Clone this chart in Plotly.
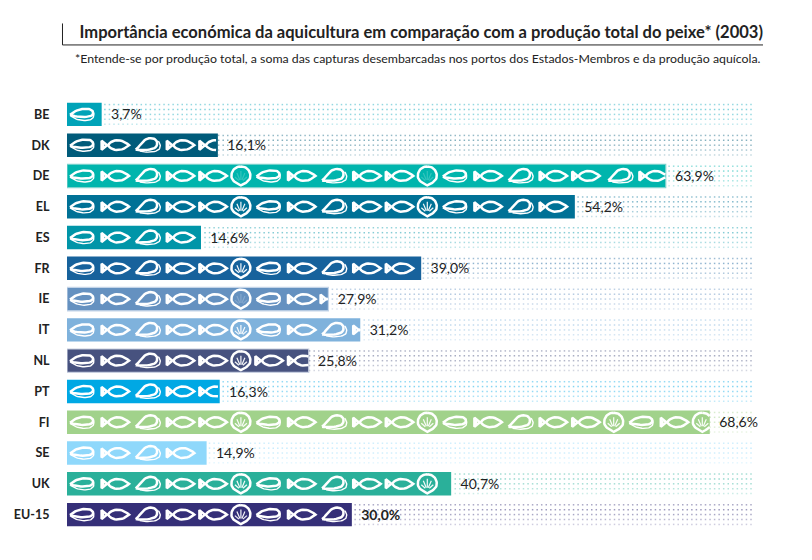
import numpy as np
import plotly.graph_objects as go

# ---------- data ----------
countries = ["BE", "DK", "DE", "EL", "ES", "FR", "IE", "IT", "NL", "PT", "FI", "SE", "UK", "EU-15"]
# printed percentages
printed_values = [3.7, 16.1, 63.9, 54.2, 14.6, 39.0, 27.9, 31.2, 25.8, 16.3, 68.6, 14.9, 40.7, 30.0]
# drawn bar lengths (they differ slightly from the printed labels)
bar_lengths = [3.7, 16.1, 63.9, 54.2, 14.3, 37.8, 27.9, 31.3, 25.8, 16.3, 68.6, 14.9, 41.0, 30.4]
bar_colors = ["#00a3b8", "#005b7a", "#00b5ad", "#007196", "#0095a8", "#17629c", "#6591c0",
              "#7fb2dc", "#47527f", "#00a8e4", "#a1d28b", "#8fd8fb", "#2ab09a", "#352f78"]
edge_colors = [None, None, "#7fd3cd", None, None, None, "#c3d4e8", None, "#c8cfe0", None, None, None, None, None]
# icon sequences: m = mussel, n = second mussel, f = fish, p = plant ring
icon_rows = {
    "BE": "m", "DK": "mfnff", "DE": "mfnffpmfnffpmfnffnf", "EL": "mfnffpmfnffpmfnf", "ES": "mfnf",
    "FR": "mfnffpmfnff", "IE": "mfnffpmff", "IT": "mfnffpmfnf", "NL": "mfnffpff", "PT": "mfnff",
    "FI": "mfnffpmfnffpmfnffpmfp", "SE": "mfnf", "UK": "mfnffpmfnffp", "EU-15": "mfnffpmfn",
}
faint_plants = {"DE", "IE"}

# ---------- layout constants (the page adds an 8 px body margin) ----------
PAGE = 8
W, H = 812 - 2 * PAGE, 560 - 2 * PAGE
X0 = 67 - PAGE
PX_PER_PCT = 9.37
ROW_PITCH = 30.81
FIRST_ROW = 114.0 - PAGE
TOP = FIRST_ROW - ROW_PITCH / 2
BOTTOM = FIRST_ROW + ROW_PITCH * 13.5
rows = np.arange(len(countries))
STEP = 32.6  # normal spacing of icons
PLANT_STEP = 28.0


def bez(p0, p1, p2, p3, n=14):
    t = np.linspace(0, 1, n)[:, None]
    p0, p1, p2, p3 = map(np.array, (p0, p1, p2, p3))
    return (1 - t) ** 3 * p0 + 3 * (1 - t) ** 2 * t * p1 + 3 * (1 - t) * t ** 2 * p2 + t ** 3 * p3


def chain(*segments):
    return np.vstack(segments)


# thick outlines of each icon
ICONS = {
    "f": [chain(bez((-8, 1), (-3, -7), (7, -6.5), (14, 0)),
                bez((14, 0), (7, 6.5), (-3, 7), (-8, -1))),
          np.array([(-8, 0), (-13.5, -4.5), (-13.5, 4.5), (-8, 0)], dtype=float),
          np.array([(-12, -2), (-12, 2)], dtype=float)],
    "m": [chain(bez((-12.5, 0.5), (-7, -4.5), (-1, -6), (5.5, -5.5)),
                bez((5.5, -5.5), (10, -5), (12, -2), (9.5, 1)),
                bez((9.5, 1), (5, 3.5), (-6, 3), (-12.5, 0.5)))],
    "n": [chain(bez((-12, 4.5), (-8, 2), (-5, -7), (3, -7)),
                bez((3, -7), (8.5, -7), (11, -3), (8.5, 1.5)),
                bez((8.5, 1.5), (6, 5), (-7, 5.5), (-12, 4.5)))],
    "p": [chain(bez((0, -9.5), (6, -9.5), (9.5, -5), (9.5, 0)),
                bez((9.5, 0), (9.5, 5), (4, 7.5), (0, 9.5)),
                bez((0, 9.5), (-4, 7.5), (-9.5, 5), (-9.5, 0)),
                bez((-9.5, 0), (-9.5, -5), (-6, -9.5), (0, -9.5)))],
}
# thin second shell lines of the mussels
SHELLS = {
    "m": [chain(bez((-12, 1.5), (-7, 5), (-2, 6.5), (4.5, 6)),
                bez((4.5, 6), (9.5, 5.5), (12.5, 3), (11, -2)))],
    "n": [chain(bez((-8, 6), (-2, 7.5), (8, 7.5), (11.5, 4)),
                bez((11.5, 4), (13.5, 1), (12.5, -2), (10.5, -4)))],
}
PLANT_INNER = [np.array([(0, 4), (0, -5)], dtype=float),
               np.array([(-1, 4), (-4, -3)], dtype=float),
               np.array([(1, 4), (4, -3)], dtype=float),
               np.array([(-2, 4.5), (-6, 1)], dtype=float),
               np.array([(2, 4.5), (6, 1)], dtype=float)]


def to_data(path, cx, row):
    return (cx + path[:, 0]) / PX_PER_PCT, row + path[:, 1] / ROW_PITCH


def clipped(paths, limit):
    xs, ys = [], []
    for x, y in paths:
        x = np.where(x <= limit, x, np.nan)
        xs += list(x) + [None]
        ys += list(y) + [None]
    return xs, ys


def icon_line(paths, limit, width, opacity=1.0):
    xs, ys = clipped(paths, limit)
    return go.Scatter(x=xs, y=ys, mode="lines", line=dict(color="white", width=width),
                      opacity=opacity, hoverinfo="skip", showlegend=False)


fig = go.Figure()

# dotted background of every row
dot_cols = np.arange(1.5, 686.0, 4.55) / PX_PER_PCT
dot_offsets = np.array([-9.8, -4.9, 0.0, 4.9, 9.8]) / ROW_PITCH
dot_alpha = [0.42, 0.48, 0.42, 0.34, 0.24]
for i, c in enumerate(bar_colors):
    keep = dot_cols > bar_lengths[i]
    for off, a in zip(dot_offsets, dot_alpha):
        fig.add_trace(go.Scatter(
            x=dot_cols[keep], y=np.full(keep.sum(), i + off), mode="markers",
            marker=dict(symbol="square", size=1.5, color=c, opacity=a, line=dict(width=0)),
            hoverinfo="skip", showlegend=False))

# bars
fig.add_trace(go.Bar(
    y=rows, x=bar_lengths, orientation="h", width=0.76, showlegend=False,
    marker=dict(color=bar_colors,
                line=dict(color=[e or c for e, c in zip(edge_colors, bar_colors)],
                          width=[1.2 if e else 0 for e in edge_colors])),
    hoverinfo="skip"))

# pictograms
for i, name in enumerate(countries):
    cx = 15.5
    main_paths, shell_paths, inner_paths = [], [], []
    prev = None
    for k in icon_rows[name]:
        if prev is not None:
            cx += PLANT_STEP if "p" in (k, prev) else STEP
        if name == "DE" and prev == "f" and k == "n" and cx > 500:
            cx += 2
        main_paths += [to_data(p, cx, i) for p in ICONS[k]]
        shell_paths += [to_data(p, cx, i) for p in SHELLS.get(k, [])]
        if k == "p":
            inner_paths += [to_data(p, cx, i) for p in PLANT_INNER]
        prev = k
    fig.add_trace(icon_line(main_paths, bar_lengths[i], 2.5))
    if shell_paths:
        fig.add_trace(icon_line(shell_paths, bar_lengths[i], 1.4))
    if inner_paths:
        fig.add_trace(icon_line(inner_paths, bar_lengths[i], 1.2, 0.2 if name in faint_plants else 0.95))

# value labels
labels = [("%.1f%%" % v).replace(".", ",") for v in printed_values]
labels[-1] = "<b>" + labels[-1] + "</b>"
fig.add_trace(go.Scatter(
    x=np.array(bar_lengths) + 1.0, y=rows + 0.05, mode="text", text=labels,
    textposition="middle right", cliponaxis=False,
    textfont=dict(family="Lato", size=14, color="#222"),
    hoverinfo="skip", showlegend=False))


def px(x):
    return (x - PAGE - X0) / (W - X0)


def py(y):
    return (BOTTOM - (y - PAGE)) / (BOTTOM - TOP)


fig.update_layout(
    width=W, height=H, autosize=False, paper_bgcolor="white", plot_bgcolor="white",
    margin=dict(l=X0, r=0, t=TOP, b=H - BOTTOM, autoexpand=False),
    barmode="overlay", showlegend=False,
    title=dict(text="<b>Importância económica da aquicultura em comparação com a produção total do peixe* (2003)</b>",
               x=(763 - PAGE) / W, xanchor="right", xref="container",
               y=1 - (32 - PAGE) / H, yanchor="middle", yref="container",
               font=dict(family="Lato", size=16.55, color="#222")),
    xaxis=dict(range=[0, (W - X0) / PX_PER_PCT], visible=False, fixedrange=True),
    yaxis=dict(range=[13.5, -0.5], tickmode="array", tickvals=rows,
               ticktext=["<b>%s</b>" % c for c in countries],
               ticks="outside", ticklen=14, tickcolor="rgba(0,0,0,0)", showgrid=False, zeroline=False,
               showline=False, tickfont=dict(family="Lato", size=12.5, color="#222"), fixedrange=True),
    shapes=[dict(type="path", xref="paper", yref="paper", line=dict(color="#222", width=1),
                 path="M %f %f L %f %f L %f %f" % (px(62.5), py(23), px(62.5), py(44.5), px(763), py(44.5)))],
    annotations=[dict(text="*Entende-se por produção total, a soma das capturas desembarcadas nos portos dos Estados-Membros e da produção aquícola.",
                      xref="paper", yref="paper", x=px(763), y=py(58), xanchor="right", yanchor="middle",
                      showarrow=False, xshift=0,
                      font=dict(family="Lato", size=12.34, color="#222"))],
)

fig.write_html("out.html")
